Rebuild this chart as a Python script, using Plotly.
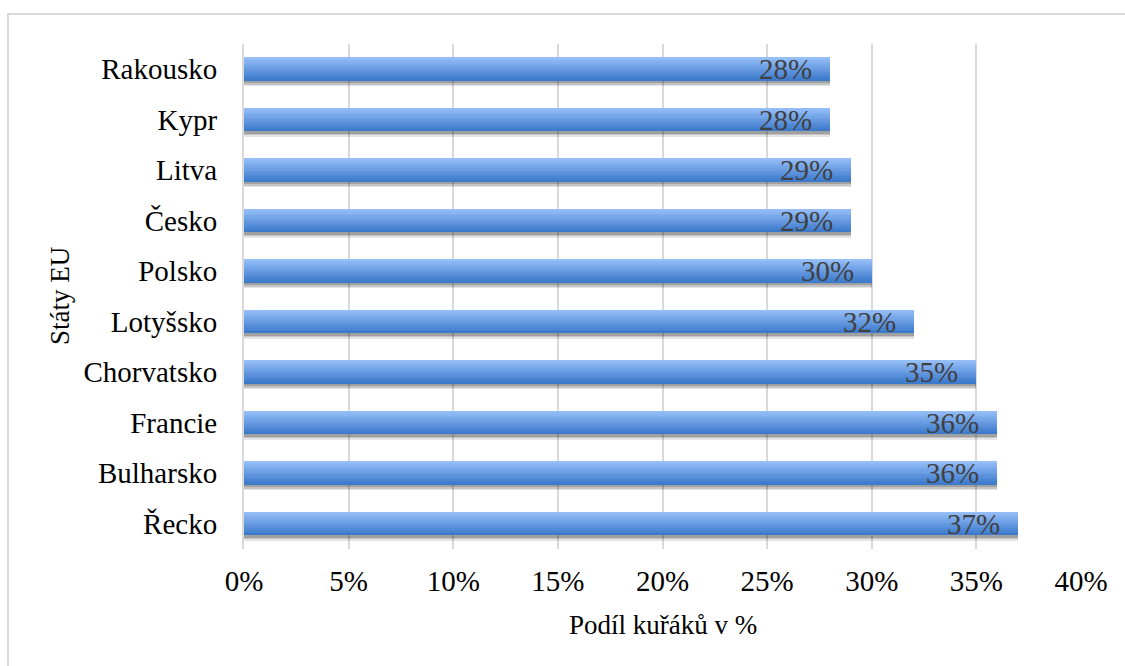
import plotly.graph_objects as go

# Smoker share by EU country (top to bottom)
countries = ["Rakousko", "Kypr", "Litva", "Česko", "Polsko",
             "Lotyšsko", "Chorvatsko", "Francie", "Bulharsko", "Řecko"]
smokers_pct = [28, 28, 29, 29, 30, 32, 35, 36, 36, 37]

x_ticks = [0, 5, 10, 15, 20, 25, 30, 35, 40]
x_tick_labels = [f"{v}%" for v in x_ticks]

FONT = "Liberation Serif"
W, H = 1125, 666
L, R, T, B = 244, 44, 44, 117
PW, PH = W - L - R, H - T - B

BAR_W = 0.46
N_STRIPS = 14
TOP_RGB = (150, 190, 248)
BOT_RGB = (60, 122, 204)


def mix(a, b, t):
    return "rgb(%d,%d,%d)" % tuple(round(a[k] + (b[k] - a[k]) * t) for k in range(3))


fig = go.Figure()

# soft drop shadow under each bar
for shift, alpha in [(0.11, 0.10), (0.08, 0.14), (0.05, 0.18)]:
    fig.add_trace(go.Bar(
        x=smokers_pct, y=countries, orientation="h",
        width=BAR_W, offset=-BAR_W / 2 + shift,
        marker=dict(color="rgba(0,0,0,%.2f)" % alpha, line=dict(width=0)),
        hoverinfo="skip", showlegend=False,
    ))

# bars drawn as thin horizontal strips to give a vertical gradient
strip = BAR_W / N_STRIPS
for i in range(N_STRIPS):
    t = i / (N_STRIPS - 1)
    fig.add_trace(go.Bar(
        x=smokers_pct, y=countries, orientation="h",
        width=strip * 1.05, offset=-BAR_W / 2 + i * strip,
        marker=dict(color=mix(TOP_RGB, BOT_RGB, t), line=dict(width=0)),
        hoverinfo="skip", showlegend=False,
    ))

# value labels at the inner end of each bar
for c, v in zip(countries, smokers_pct):
    fig.add_annotation(
        x=v, y=c, xref="x", yref="y", text=f"{v}%",
        xanchor="right", yanchor="middle", xshift=-16, showarrow=False,
        font=dict(family=FONT, size=29, color="#404040"),
    )

# axis titles
fig.add_annotation(
    x=0.5, y=(T + PH - 625) / PH, xref="paper", yref="paper",
    text="Podíl kuřáků v %", showarrow=False,
    xanchor="center", yanchor="middle",
    font=dict(family=FONT, size=27, color="#000000"),
)
fig.add_annotation(
    x=(60 - L) / PW, y=(T + PH - 296) / PH, xref="paper", yref="paper",
    text="Státy EU", showarrow=False, textangle=-90,
    xanchor="center", yanchor="middle",
    font=dict(family=FONT, size=27, color="#000000"),
)

# chart frame
fig.add_shape(
    type="rect", xref="paper", yref="paper",
    x0=(8 - L) / PW, x1=1.2, y0=-0.4, y1=(T + PH - 14) / PH,
    line=dict(color="#D9D9D9", width=2), fillcolor="rgba(0,0,0,0)", layer="below",
)

fig.update_layout(
    width=W, height=H,
    margin=dict(l=L, r=R, t=T, b=B),
    barmode="overlay", bargap=0,
    plot_bgcolor="white", paper_bgcolor="white",
    font=dict(family=FONT, size=29, color="#000000"),
    showlegend=False,
    xaxis=dict(
        range=[0, 40], tickmode="array", tickvals=x_ticks, ticktext=x_tick_labels,
        showgrid=True, gridcolor="#D9D9D9", gridwidth=1.5,
        zeroline=False, showline=False, ticks="",
        ticklabelstandoff=12,
        tickfont=dict(family=FONT, size=29, color="#000000"),
        fixedrange=True,
    ),
    yaxis=dict(
        autorange="reversed", categoryorder="array", categoryarray=countries,
        showgrid=False, zeroline=False, ticks="",
        showline=True, linecolor="#D9D9D9", linewidth=2,
        ticklabelstandoff=19,
        tickfont=dict(family=FONT, size=29, color="#000000"),
        fixedrange=True,
    ),
)

fig.write_html("out.html")
